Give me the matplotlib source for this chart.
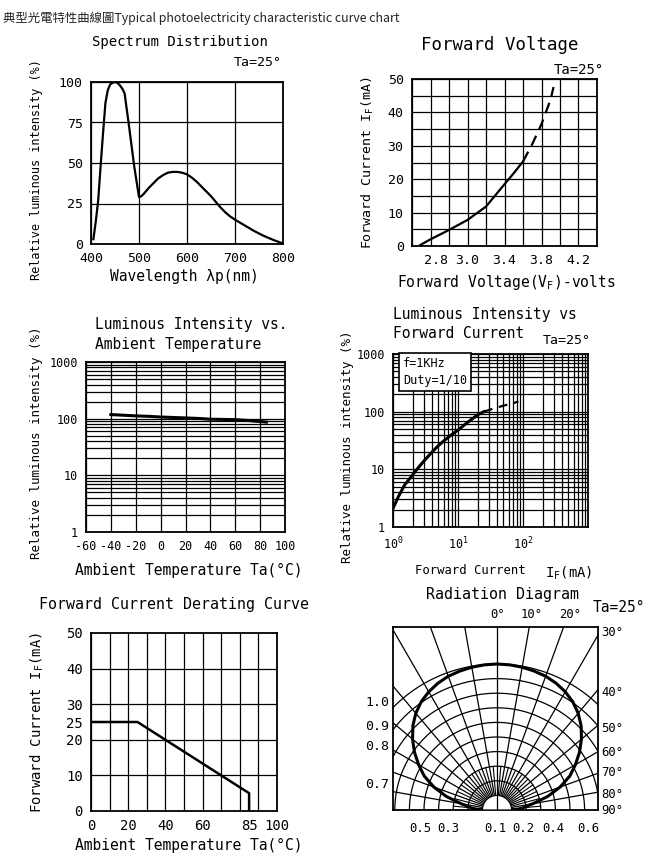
import matplotlib
matplotlib.use('Agg')
import matplotlib.pyplot as plt
import matplotlib.patches as mpatches
import numpy as np
from matplotlib.ticker import LogLocator, NullFormatter

# ---------------- data ----------------
spec_wl = [405, 410, 415, 420, 425, 430, 435, 440, 445, 450, 455, 460, 465, 470,
           480, 490, 500, 505, 510, 520, 530, 540, 550, 560, 570, 580, 590, 600,
           610, 620, 630, 640, 650, 660, 670, 680, 690, 700, 720, 740, 760, 780, 800]
spec_val = [3, 14, 27, 48, 68, 87, 95, 98.5, 99.5, 100, 99.5, 98, 96, 93,
            71, 48, 29, 29.5, 31, 34.5, 37.5, 40.5, 42.5, 44, 44.5, 44.5, 44, 43,
            41, 38.5, 35.5, 32.5, 29.5, 26, 22.5, 19.5, 17, 15, 11.5, 8, 5, 2.5, 0.3]
spec_xticks = [400, 500, 600, 700, 800]
spec_yticks = [0, 25, 50, 75, 100]

fv_solid_v = [2.49, 2.6, 2.8, 3.0, 3.2, 3.4, 3.5, 3.6]
fv_solid_i = [0.3, 2, 4.8, 7.8, 11.8, 18.5, 21.8, 25.3]
fv_dash_v = [3.6, 3.7, 3.8, 3.9, 3.93]
fv_dash_i = [25.3, 30.5, 36.5, 44, 47.6]
fv_tick_pos = [2.66, 3.0, 3.4, 3.8, 4.2]
fv_tick_lbl = ['2.8', '3.0', '3.4', '3.8', '4.2']
fv_yticks = [0, 10, 20, 30, 40, 50]

temp_x = [-40, -30, -20, -10, 0, 10, 20, 30, 40, 50, 60, 70, 80, 85]
temp_y = [118, 115, 112, 110, 107, 105, 103, 101, 98, 97, 96, 93, 89, 87]
temp_xticks = [-60, -40, -20, 0, 20, 40, 60, 80, 100]
temp_xlabels = ['-60', '-40', '-20', '0', '20', '40', '60', '80', '100']
log_yticks = [1, 10, 100, 1000]
log_ylabels = ['1', '10', '100', '1000']

lf_i_solid = [1, 1.2, 1.5, 2, 2.4, 3, 4, 4.8, 6, 8, 10, 14, 20, 25]
lf_y_solid = [2.1, 3.3, 5.3, 8, 10.4, 14, 20, 24.7, 31, 40, 48, 65, 88, 100]
lf_i_dash = [25, 35, 50, 70, 85]
lf_y_dash = [100, 113, 127, 140, 150]
lf_xticks = [1, 10, 100]
lf_xlabels = ['$10^0$', '$10^1$', '$10^2$']

der_t = [0, 25, 85, 85]
der_i = [25, 25, 5, 0]
der_xticks = [0, 20, 40, 60, 85, 100]
der_yticks = [0, 10, 20, 25, 30, 40, 50]

rad_ang = [0, 5, 10, 15, 20, 25, 30, 35, 40, 45, 50, 55, 60, 65, 70, 75, 80, 85, 90]
rad_rel = [1.0, 0.998, 0.993, 0.985, 0.975, 0.958, 0.935, 0.905, 0.865, 0.815,
           0.755, 0.69, 0.62, 0.55, 0.46, 0.36, 0.25, 0.18, 0.13]
rad_rings = [0.1, 0.2, 0.3, 0.4, 0.5, 0.6, 0.7, 0.8, 0.9, 1.0]
rad_left_lbl = ['1.0', '0.9', '0.8', '0.7']
rad_bottom_lbl = ['0.5', '0.3', '0.1', '0.2', '0.4', '0.6']
rad_top_lbl = ['0°', '10°', '20°']
rad_right_lbl = ['30°', '40°', '50°', '60°', '70°', '80°', '90°']

# ---------------- layout helpers ----------------
W, H = 657, 861
fig = plt.figure(figsize=(W / 100, H / 100), dpi=100)
fig.patch.set_facecolor('white')
plt.rcParams['mathtext.fontset'] = 'custom'
plt.rcParams['mathtext.rm'] = 'DejaVu Sans Mono'
plt.rcParams['mathtext.it'] = 'DejaVu Sans Mono'
plt.rcParams['axes.unicode_minus'] = False

MONO = 'DejaVu Sans Mono'


def add_ax(l, t, r, b):
    return fig.add_axes([l / W, 1 - b / H, (r - l) / W, (b - t) / H])


def ftext(x, y, s, **kw):
    kw.setdefault('ha', 'center')
    kw.setdefault('va', 'center')
    kw.setdefault('family', MONO)
    fig.text(x / W, 1 - y / H, s, **kw)


def style(ax, size=9, pad=5):
    for s in ax.spines.values():
        s.set_linewidth(1.3)
        s.set_color('black')
    ax.tick_params(which='both', length=0, pad=pad, labelsize=size)
    for lab in ax.get_xticklabels() + ax.get_yticklabels():
        lab.set_family(MONO)


GRID = dict(color='black', lw=0.9)

# ---------------- top caption ----------------
ftext(3, 18, '典型光電特性曲線圖Typical photoelectricity characteristic curve chart',
      ha='left', family=['Noto Sans CJK TC', 'DejaVu Sans'], size=8.9, color='#222222')

# ---------------- panel 1 : spectrum ----------------
ax1 = add_ax(91, 82, 283, 244)
ax1.plot(spec_wl, spec_val, color='black', lw=1.6)
ax1.set_xlim(400, 800)
ax1.set_ylim(0, 100)
ax1.set_xticks(spec_xticks)
ax1.set_yticks(spec_yticks)
ax1.grid(True, **GRID)
style(ax1, size=9.5, pad=6)
ftext(180, 42, 'Spectrum Distribution', size=10)
ftext(282, 63, 'Ta=25°', ha='right', size=9.5)
ftext(37, 170, 'Relative luminous intensity (%)', rotation=90, size=8.5)
ftext(184, 277, 'Wavelength λp(nm)', size=10.5)

# ---------------- panel 2 : forward voltage ----------------
ax2 = add_ax(412, 79, 597, 246)
ax2.plot(fv_solid_v, fv_solid_i, color='black', lw=1.6)
ax2.plot(fv_dash_v, fv_dash_i, color='black', lw=1.6, dashes=(5, 3))
ax2.set_xlim(2.4, 4.4)
ax2.set_ylim(0, 50)
ax2.set_xticks(fv_tick_pos, fv_tick_lbl)
ax2.set_xticks(np.arange(2.4, 4.41, 0.2), minor=True)
ax2.set_yticks(fv_yticks)
ax2.set_yticks(np.arange(0, 51, 5), minor=True)
ax2.xaxis.remove_overlapping_locs = False
ax2.yaxis.remove_overlapping_locs = False
ax2.grid(which='minor', **GRID)
ax2.grid(which='major', visible=False)
style(ax2, size=9.5, pad=6)
ftext(500, 45, 'Forward Voltage', size=12.5)
ftext(604, 70, 'Ta=25°', ha='right', size=10)
ftext(368, 163, 'Forward Current I$_F$(mA)', rotation=90, size=9.5)
ftext(506, 283, 'Forward Voltage(V$_F$)-volts', size=10.5)

# ---------------- panel 3 : intensity vs ambient temperature ----------------
ax3 = add_ax(86, 362, 285, 532)
ax3.plot(temp_x, temp_y, color='black', lw=2.2)
ax3.set_yscale('log')
ax3.set_xlim(-60, 100)
ax3.set_ylim(1, 1000)
ax3.set_xticks(temp_xticks, temp_xlabels)
ax3.set_yticks(log_yticks, log_ylabels)
ax3.yaxis.set_minor_locator(LogLocator(base=10, subs=range(2, 10)))
ax3.yaxis.set_minor_formatter(NullFormatter())
ax3.grid(which='both', **GRID)
style(ax3, size=8.5, pad=6)
ftext(95, 325, 'Luminous Intensity vs.', ha='left', size=10.5)
ftext(95, 344, 'Ambient Temperature', ha='left', size=10.5)
ftext(37, 443, 'Relative luminous intensity (%)', rotation=90, size=9)
ftext(189, 570, 'Ambient Temperature Ta(°C)', size=10.5)

# ---------------- panel 4 : intensity vs forward current ----------------
ax4 = add_ax(393, 354, 588, 527)
ax4.plot(lf_i_solid, lf_y_solid, color='black', lw=2.2)
ax4.plot(lf_i_dash, lf_y_dash, color='black', lw=1.6, dashes=(4, 3))
ax4.set_xscale('log')
ax4.set_yscale('log')
ax4.set_xlim(1, 1000)
ax4.set_ylim(1, 1000)
ax4.set_xticks(lf_xticks, lf_xlabels)
ax4.set_yticks(log_yticks, log_ylabels)
for axis in (ax4.xaxis, ax4.yaxis):
    axis.set_minor_locator(LogLocator(base=10, subs=range(2, 10)))
    axis.set_minor_formatter(NullFormatter())
ax4.grid(which='both', **GRID)
style(ax4, size=8.5, pad=6)
ftext(403, 372, 'f=1KHz\nDuty=1/10', ha='left', size=8.5, linespacing=1.4,
      bbox=dict(boxstyle='square,pad=0.35', fc='white', ec='black', lw=1.2))
ftext(393, 315, 'Luminous Intensity vs', ha='left', size=10.5)
ftext(393, 334, 'Forward Current', ha='left', size=10.5)
ftext(591, 340, 'Ta=25°', ha='right', size=9.5)
ftext(348, 447, 'Relative luminous intensity (%)', rotation=90, size=9)
ftext(470, 570, 'Forward Current', size=8.8)
ftext(569, 573, 'I$_F$(mA)', size=10)

# ---------------- panel 5 : derating curve ----------------
ax5 = add_ax(91, 633, 277, 811)
ax5.plot(der_t, der_i, color='black', lw=1.8)
ax5.set_xlim(0, 100)
ax5.set_ylim(0, 50)
ax5.set_xticks(der_xticks)
ax5.set_xticks(np.arange(0, 101, 10), minor=True)
ax5.set_yticks(der_yticks)
ax5.set_yticks([10, 20, 30, 40], minor=True)
ax5.xaxis.remove_overlapping_locs = False
ax5.yaxis.remove_overlapping_locs = False
ax5.grid(which='minor', **GRID)
ax5.grid(which='major', visible=False)
style(ax5, size=10, pad=6)
ftext(174, 605, 'Forward Current Derating Curve', size=10.8)
ftext(37, 723, 'Forward Current I$_F$(mA)', rotation=90, size=10)
ftext(189, 845, 'Ambient Temperature Ta(°C)', size=10.5)

# ---------------- panel 6 : radiation diagram ----------------
ax6 = add_ax(393, 627, 598, 810)
ax6.set_xlim(-104 / 146, 101 / 146)
ax6.set_ylim(0, 183 / 146)
ax6.set_xticks([])
ax6.set_yticks([])
for s in ax6.spines.values():
    s.set_linewidth(1.3)
th = np.radians(np.linspace(-90, 90, 361))
for r in rad_rings[1:]:
    ax6.plot(r * np.sin(th), r * np.cos(th), color='black', lw=0.9)
for a in range(-90, 91, 10):
    t = np.radians(a)
    r0 = 0.0 if a == 0 else 0.1
    ax6.plot([r0 * np.sin(t), 2 * np.sin(t)], [r0 * np.cos(t), 2 * np.cos(t)],
             color='black', lw=0.9, zorder=5 if a == 0 else 2)
for a in range(-85, 86, 10):
    t = np.radians(a)
    ax6.plot([0.1 * np.sin(t), 0.3 * np.sin(t)], [0.1 * np.cos(t), 0.3 * np.cos(t)],
             color='black', lw=0.8)
ax6.add_patch(mpatches.Wedge((0, 0), rad_rings[0], 0, 180, fc='white', ec='black',
                             lw=0.9, zorder=4))
ang = np.radians(np.concatenate([-np.array(rad_ang[::-1]), np.array(rad_ang[1:])]))
rel = np.concatenate([np.array(rad_rel[::-1]), np.array(rad_rel[1:])])
ax6.plot(rel * np.sin(ang), rel * np.cos(ang), color='black', lw=2.2, zorder=6)

ftext(502, 595, 'Radiation Diagram', size=10.8)
ftext(619, 608, 'Ta=25°', size=10.5)
for lbl, y in zip(rad_left_lbl, [702, 726, 746, 784]):
    ftext(389, y, lbl, ha='right', size=9.5)
for lbl, x in zip(rad_bottom_lbl, [420, 448, 495, 523, 553, 588]):
    ftext(x, 828, lbl, size=8.8)
for lbl, x in zip(rad_top_lbl, [498, 532, 570]):
    ftext(x, 615, lbl, size=8.8)
for lbl, y in zip(rad_right_lbl, [632, 692, 729, 753, 773, 794, 810]):
    ftext(601, y, lbl, ha='left', size=8.8)

fig.savefig('out.png', dpi=100, facecolor='white')
